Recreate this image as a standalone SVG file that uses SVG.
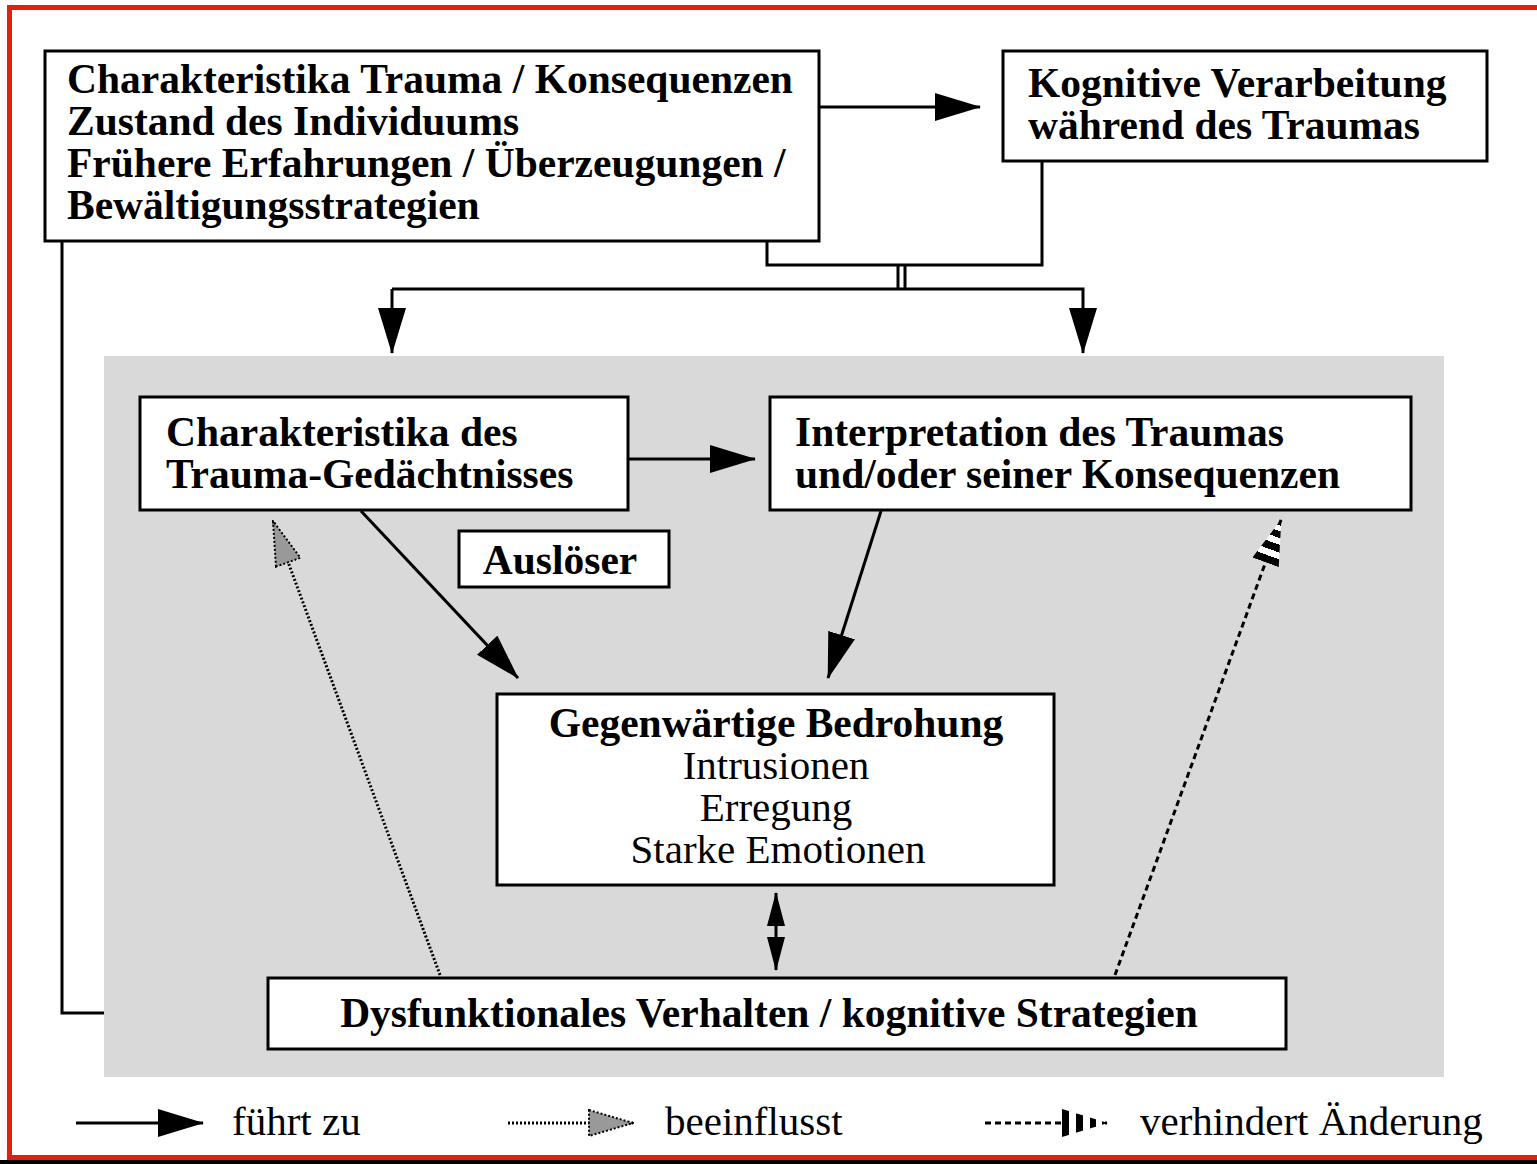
<svg xmlns="http://www.w3.org/2000/svg" width="1537" height="1164" viewBox="0 0 1537 1164">
<defs>
<style>
.box{fill:#fff;stroke:#000;stroke-width:3}
.b{font-family:"Liberation Serif","Times New Roman",serif;font-weight:bold;font-size:41.5px;fill:#000}
.r{font-family:"Liberation Serif","Times New Roman",serif;font-size:41px;fill:#000}
.ln{fill:none;stroke:#000;stroke-width:3}
.dot{fill:none;stroke:#000;stroke-width:3;stroke-dasharray:2 2}
.dash{fill:none;stroke:#000;stroke-width:3;stroke-dasharray:6 4}
</style>
<marker id="ah" viewBox="0 0 46 28" refX="45" refY="14" markerWidth="46" markerHeight="28" markerUnits="userSpaceOnUse" orient="auto">
<path d="M0,0 L46,14 L0,28 Z" fill="#000"/>
</marker>
<marker id="ahs" viewBox="0 0 34 18" refX="33" refY="9" markerWidth="34" markerHeight="18" markerUnits="userSpaceOnUse" orient="auto-start-reverse">
<path d="M0,0 L34,9 L0,18 Z" fill="#000"/>
</marker>
<marker id="ahg" viewBox="0 0 46 28" refX="45" refY="14" markerWidth="46" markerHeight="28" markerUnits="userSpaceOnUse" orient="auto">
<path d="M1,1 L45,14 L1,27 Z" fill="#999" stroke="#000" stroke-width="2" stroke-dasharray="2 2"/>
</marker>
<linearGradient id="stripes" x1="0" y1="0" x2="1" y2="0">
<stop offset="0" stop-color="#000"/><stop offset="0.16" stop-color="#000"/>
<stop offset="0.16" stop-color="#fff"/><stop offset="0.3" stop-color="#fff"/>
<stop offset="0.3" stop-color="#000"/><stop offset="0.46" stop-color="#000"/>
<stop offset="0.46" stop-color="#fff"/><stop offset="0.6" stop-color="#fff"/>
<stop offset="0.6" stop-color="#000"/><stop offset="0.74" stop-color="#000"/>
<stop offset="0.74" stop-color="#fff"/><stop offset="0.86" stop-color="#fff"/>
<stop offset="0.86" stop-color="#000"/><stop offset="1" stop-color="#000"/>
</linearGradient>
<marker id="ahd" viewBox="0 0 46 28" refX="45" refY="14" markerWidth="46" markerHeight="28" markerUnits="userSpaceOnUse" orient="auto">
<path d="M0,0 L46,14 L0,28 Z" fill="url(#stripes)"/>
</marker>
</defs>
<rect x="0" y="0" width="1537" height="1164" fill="#fff"/>
<!-- frame -->
<path d="M9.5,1158 L9.5,7.5 L1537,7.5" fill="none" stroke="#e02010" stroke-width="5"/>
<rect x="7" y="1155" width="1530" height="5" fill="#e02010"/>
<rect x="0" y="1160" width="1537" height="4" fill="#000"/>
<rect x="104" y="356" width="1340" height="721" fill="#d9d9d9"/>

<g id="connectors">
<path class="ln" d="M819,107 L980,107" marker-end="url(#ah)"/>
<path class="ln" d="M767,241 L767,265 L1042,265 L1042,161"/>
<path class="ln" d="M898,265 L898,289 M905,265 L905,289"/>
<path class="ln" d="M392,289 L1083,289 L1083,353" marker-end="url(#ah)"/>
<path class="ln" d="M392,289 L392,353" marker-end="url(#ah)"/>
<path class="ln" d="M62,241 L62,1013 L104,1013"/>
<path class="ln" d="M628,459 L755,459" marker-end="url(#ah)"/>
<path class="ln" d="M361,511 L518,678" marker-end="url(#ah)"/>
<path class="ln" d="M881,511 L828,678" marker-end="url(#ah)"/>
<path class="ln" d="M776,893 L776,970" marker-start="url(#ahs)" marker-end="url(#ahs)"/>
<path class="dot" d="M440,975 L273,521" marker-end="url(#ahg)"/>
<path class="dash" d="M1115,975 L1281,520" marker-end="url(#ahd)"/>
</g>

<g id="n1">
<rect class="box" x="45" y="51" width="774" height="190"/>
<text class="b" x="67" y="93">Charakteristika Trauma / Konsequenzen</text>
<text class="b" x="67" y="135">Zustand des Individuums</text>
<text class="b" x="67" y="177">Frühere Erfahrungen / Überzeugungen /</text>
<text class="b" x="67" y="219">Bewältigungsstrategien</text>
</g>
<g id="n2">
<rect class="box" x="1003" y="51" width="484" height="110"/>
<text class="b" x="1028" y="97">Kognitive Verarbeitung</text>
<text class="b" x="1028" y="139">während des Traumas</text>
</g>
<g id="n3">
<rect class="box" x="140" y="397" width="488" height="113"/>
<text class="b" x="166" y="446">Charakteristika des</text>
<text class="b" x="166" y="488">Trauma-Gedächtnisses</text>
</g>
<g id="n4">
<rect class="box" x="770" y="397" width="641" height="113"/>
<text class="b" x="795" y="446">Interpretation des Traumas</text>
<text class="b" x="795" y="488">und/oder seiner Konsequenzen</text>
</g>
<g id="n5">
<rect class="box" x="459" y="531" width="210" height="56"/>
<text class="b" x="560" y="574" text-anchor="middle">Auslöser</text>
</g>
<g id="n6">
<rect class="box" x="497" y="694" width="557" height="191"/>
<text class="b" x="776" y="737" text-anchor="middle">Gegenwärtige Bedrohung</text>
<text class="r" x="776" y="779" text-anchor="middle">Intrusionen</text>
<text class="r" x="776" y="821" text-anchor="middle">Erregung</text>
<text class="r" x="778" y="863" text-anchor="middle">Starke Emotionen</text>
</g>
<g id="n7">
<rect class="box" x="268" y="978" width="1018" height="71"/>
<text class="b" x="769" y="1027" text-anchor="middle">Dysfunktionales Verhalten / kognitive Strategien</text>
</g>

<g id="legend">
<path class="ln" d="M76,1123 L203,1123" marker-end="url(#ah)"/>
<text class="r" x="232" y="1135">führt zu</text>
<path class="dot" d="M508,1123 L633,1123" marker-end="url(#ahg)"/>
<text class="r" x="665" y="1135">beeinflusst</text>
<path class="dash" d="M985,1123 L1107,1123" marker-end="url(#ahd)"/>
<text class="r" x="1140" y="1135">verhindert Änderung</text>
</g>
</svg>
